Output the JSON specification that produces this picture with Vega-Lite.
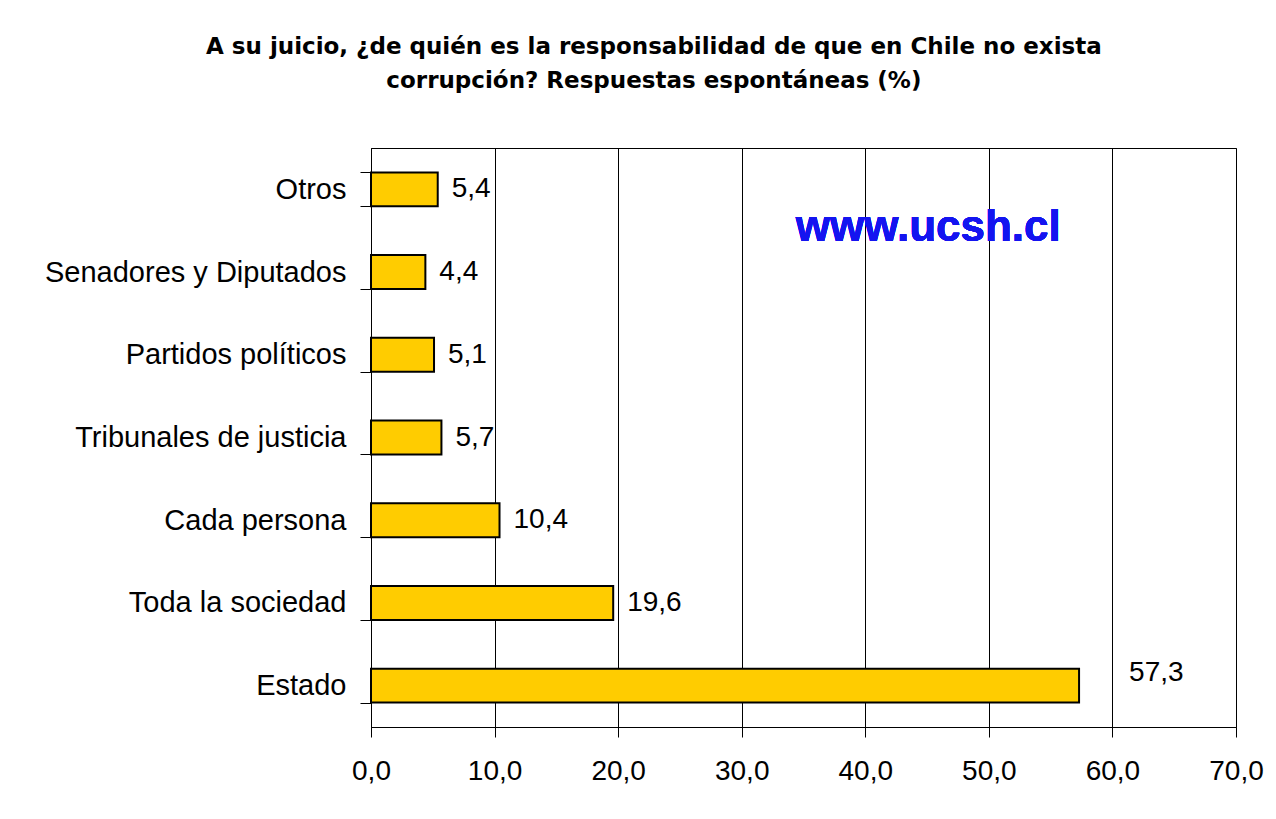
{
  "$schema": "https://vega.github.io/schema/vega-lite/v6.json",
  "width": 865,
  "height": 579,
  "autosize": {"type": "none"},
  "padding": {"left": 371, "top": 148, "right": 40, "bottom": 92},
  "background": "#ffffff",
  "title": {
    "text": ["A su juicio, ¿de quién es la responsabilidad de que en Chile no exista", "corrupción? Respuestas espontáneas (%)"],
    "anchor": "middle",
    "frame": "bounds",
    "font": "DejaVu Sans",
    "fontSize": 23,
    "fontWeight": "bold",
    "color": "#000000",
    "lineHeight": 34,
    "offset": 41
  },
  "config": {
    "font": "Liberation Sans",
    "locale": {"number": {"decimal": ",", "thousands": ".", "grouping": [3], "currency": ["$", ""]}},
    "view": {"stroke": "#000000", "strokeWidth": 1},
    "axis": {
      "domainColor": "#000000",
      "tickColor": "#000000",
      "labelColor": "#000000",
      "labelFont": "Liberation Sans",
      "labelFontSize": 28,
      "labelLimit": 0
    }
  },
  "data": {
    "values": [
      {"categoria": "Otros", "valor": 5.4},
      {"categoria": "Senadores y Diputados", "valor": 4.4},
      {"categoria": "Partidos políticos", "valor": 5.1},
      {"categoria": "Tribunales de justicia", "valor": 5.7},
      {"categoria": "Cada persona", "valor": 10.4},
      {"categoria": "Toda la sociedad", "valor": 19.6},
      {"categoria": "Estado", "valor": 57.3}
    ]
  },
  "encoding": {
    "y": {
      "field": "categoria",
      "type": "nominal",
      "sort": null,
      "title": null,
      "scale": {"paddingInner": 0.59, "paddingOuter": 0.295},
      "axis": {
        "tickBand": "extent",
        "tickSize": 11,
        "labelPadding": 14,
        "labelFontSize": 29,
        "grid": false,
        "domainWidth": 1
      }
    },
    "x": {
      "field": "valor",
      "type": "quantitative",
      "title": null,
      "scale": {"domain": [0, 70], "nice": false},
      "axis": {
        "values": [0, 10, 20, 30, 40, 50, 60, 70],
        "format": ".1f",
        "grid": true,
        "gridColor": "#000000",
        "gridOpacity": 1,
        "gridWidth": 1,
        "tickSize": 10,
        "labelPadding": 20,
        "labelFlush": false,
        "labelOverlap": false
      }
    }
  },
  "layer": [
    {
      "mark": {"type": "bar", "fill": "#FFCC00", "stroke": "#000000", "strokeWidth": 2}
    },
    {
      "transform": [{"filter": "datum.categoria !== 'Estado'"}],
      "mark": {"type": "text", "align": "left", "baseline": "middle", "dx": 14, "fontSize": 28, "font": "Liberation Sans", "color": "#000000"},
      "encoding": {"text": {"field": "valor", "type": "quantitative", "format": ".1f"}}
    },
    {
      "transform": [{"filter": "datum.categoria === 'Estado'"}],
      "mark": {"type": "text", "align": "left", "baseline": "middle", "dx": 50, "dy": -13, "fontSize": 28, "font": "Liberation Sans", "color": "#000000"},
      "encoding": {"text": {"field": "valor", "type": "quantitative", "format": ".1f"}}
    },
    {
      "mark": {"type": "text", "text": "www.ucsh.cl", "align": "center", "baseline": "middle", "dy": 22, "fontSize": 44, "fontWeight": "bold", "font": "Liberation Sans", "color": "#1414f0"},
      "encoding": {
        "x": {"datum": 45.1},
        "y": {"datum": "Otros", "bandPosition": 1},
        "text": null
      }
    }
  ]
}
